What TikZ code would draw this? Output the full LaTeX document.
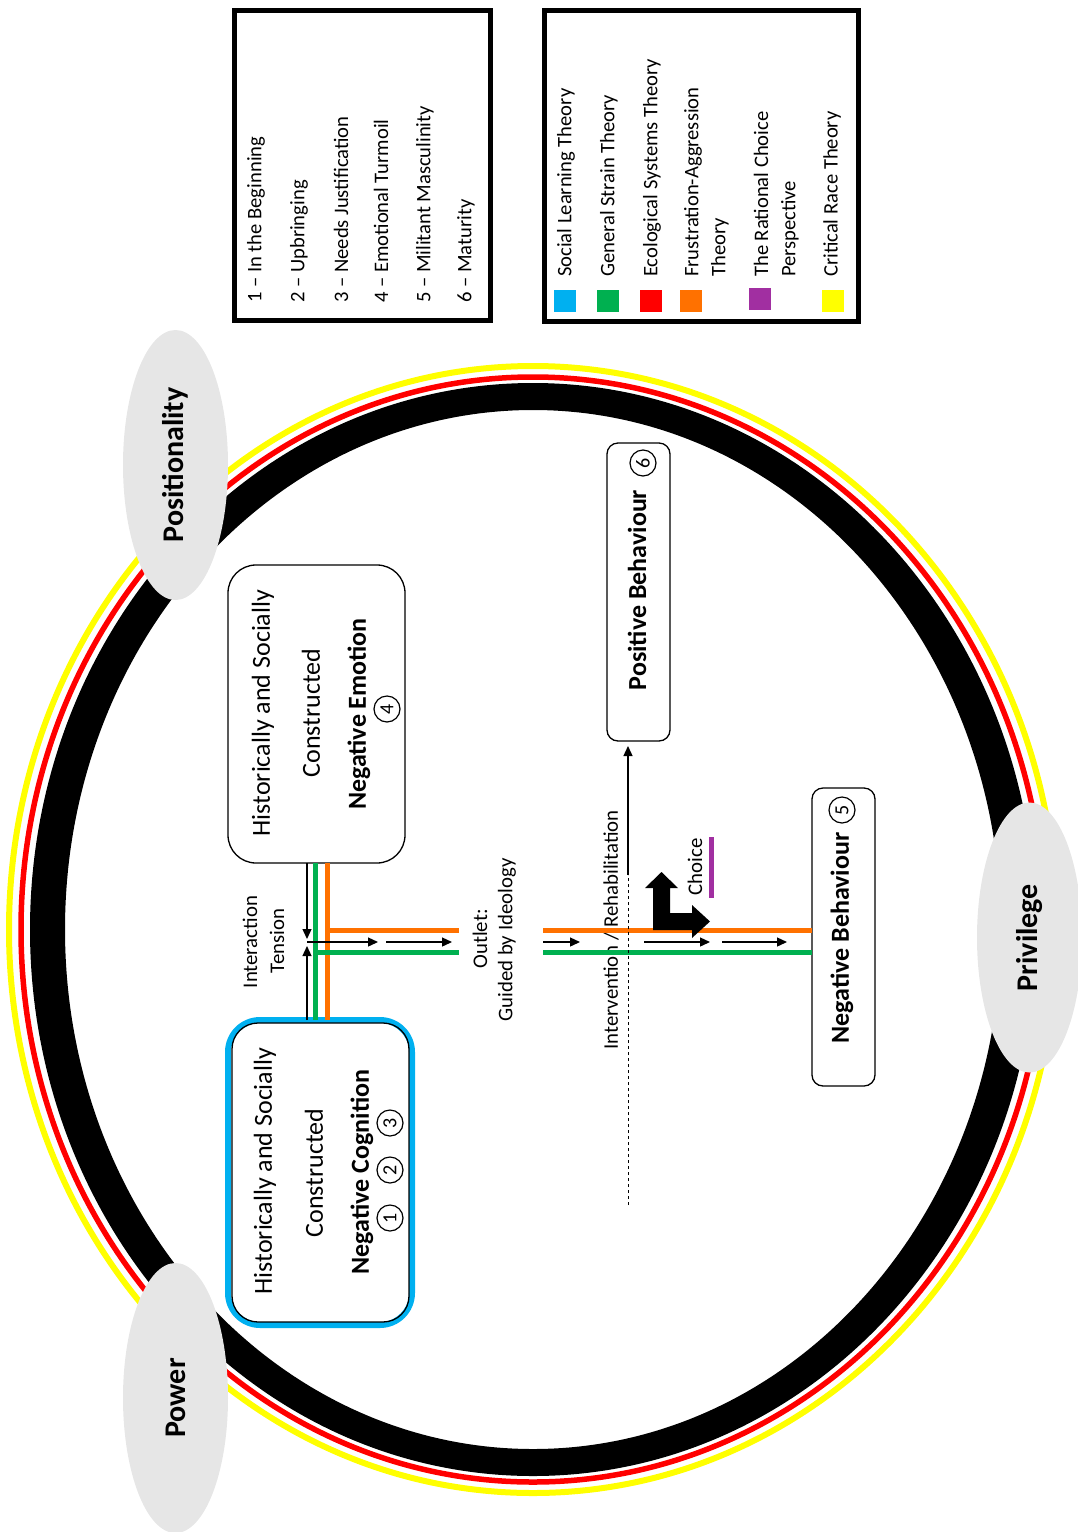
\documentclass[tikz,border=0pt]{standalone}
\usepackage{fontspec}
\setmainfont{Carlito}
\usetikzlibrary{arrows.meta,shapes.geometric}
\definecolor{sltblue}{HTML}{00B0F0}
\definecolor{gstgreen}{HTML}{00B050}
\definecolor{estred}{HTML}{FF0000}
\definecolor{faorange}{HTML}{FF7100}
\definecolor{rcpurple}{HTML}{A12FA1}
\definecolor{crtyellow}{HTML}{FFFF00}
\definecolor{ovalgray}{HTML}{E6E6E6}
\begin{document}
\begin{tikzpicture}[x=1pt,y=-1pt,
  smalltxt/.style={rotate=90, inner sep=0pt, font=\fontsize{20.8}{25}\selectfont},
  legtxt/.style={rotate=90, anchor=west, inner sep=0pt, font=\fontsize{20.6}{25}\selectfont},
  boxtxt/.style={rotate=90, inner sep=0pt, font=\fontsize{26}{31}\selectfont},
  boldtxt/.style={rotate=90, inner sep=0pt, font=\fontsize{26}{31}\selectfont\bfseries},
  oval/.style={ellipse, fill=ovalgray, inner sep=0pt, minimum width=270pt, minimum height=105pt, rotate=90, font=\fontsize{30}{36}\selectfont\bfseries},
  numc/.style={circle, draw, line width=1.2pt, minimum size=26pt, inner sep=0pt, rotate=90, font=\fontsize{20}{24}\selectfont},
  bigbox/.style={draw, line width=1.3pt, rounded corners=28pt, inner sep=0pt, outer sep=0pt},
  slimbox/.style={draw, line width=1.3pt, rounded corners=11pt, inner sep=0pt, outer sep=0pt, minimum width=63pt, minimum height=298pt},
  legbox/.style={draw, line width=5pt, inner sep=0pt},
  swatch/.style={minimum size=22pt, inner sep=0pt},
  thick line/.style={line width=5pt},
  tip/.style={-{Triangle[length=10pt,width=9pt]}, line width=1.3pt},
]
\useasboundingbox (0,0) rectangle (1078,1532);

% ring
\draw[crtyellow, line width=6pt] (533,929.5) ellipse [x radius=524pt, y radius=563.5pt];
\draw[estred, line width=5.5pt] (533,929.5) ellipse [x radius=512pt, y radius=552.5pt];
\fill[black, even odd rule] (533,929.5) ellipse [x radius=503pt, y radius=546.5pt]
  (533,929.5) ellipse [x radius=468pt, y radius=519.5pt];

% ovals
\node[oval] (posit) at (175.5,465) {Positionality};
\node[oval] (priv) at (1029.5,937.5) {Privilege};
\node[oval] (power) at (175.5,1398) {Power};

% legends
\node[legbox, minimum width=256pt, minimum height=310pt] (leg1) at (362,165) {};
\node[legtxt] (l1) at (256,303) {1 – In the Beginning};
\node[legtxt] (l2) at (299,303) {2 – Upbringing};
\node[legtxt] (l3) at (341,303) {3 – Needs Justification};
\node[legtxt] (l4) at (381,303) {4 – Emotional Turmoil};
\node[legtxt] (l5) at (425,303) {5 – Militant Masculinity};
\node[legtxt] (l6) at (466,303) {6 – Maturity};

\node[legbox, minimum width=314pt, minimum height=311pt] (leg2) at (701,165.5) {};
\node[swatch, fill=sltblue] (s1) at (565,300.5) {};
\node[swatch, fill=gstgreen] (s2) at (608,300.5) {};
\node[swatch, fill=estred] (s3) at (650.5,300.5) {};
\node[swatch, fill=faorange] (s4) at (691,300.5) {};
\node[swatch, fill=rcpurple] (s5) at (759.5,298.5) {};
\node[swatch, fill=crtyellow] (s6) at (833,300.5) {};
\node[legtxt] (t1) at (566,277) {Social Learning Theory};
\node[legtxt] (t2) at (609,277) {General Strain Theory};
\node[legtxt] (t3) at (652,277) {Ecological Systems Theory};
\node[legtxt] (t4a) at (693,277) {Frustration-Aggression};
\node[legtxt] (t4b) at (720,277) {Theory};
\node[legtxt] (t5a) at (761,277) {The Rational Choice};
\node[legtxt] (t5b) at (790,277) {Perspective};
\node[legtxt] (t6) at (832,277) {Critical Race Theory};

% boxes
\node[bigbox, minimum width=177pt, minimum height=298pt] (emo) at (316.5,714) {};
\node[boxtxt] at (263,713) {Historically and Socially};
\node[boxtxt] at (311,713) {Constructed};
\node[boldtxt] at (359,714) {Negative Emotion};
\node[numc] (n4) at (387,709) {4};

\node[draw=sltblue, line width=6pt, rounded corners=32pt, inner sep=0pt, outer sep=0pt, minimum width=184pt, minimum height=305pt] (cog) at (320,1172.5) {};
\node[bigbox, rounded corners=26pt, minimum width=177pt, minimum height=299pt] (coginner) at (320.5,1172.5) {};
\node[boxtxt] at (265,1171) {Historically and Socially};
\node[boxtxt] at (314,1173) {Constructed};
\node[boldtxt] at (362,1172) {Negative Cognition};
\node[numc] (n1) at (390,1218) {1};
\node[numc] (n2) at (390,1170) {2};
\node[numc] (n3) at (390,1123) {3};

\node[slimbox] (pos) at (638.5,592) {};
\node[boldtxt] at (637,590) {Positive Behaviour};
\node[numc] (n6) at (643,463) {6};

\node[slimbox] (neg) at (843.5,937) {};
\node[boldtxt] at (842,938) {Negative Behaviour};
\node[numc] (n5) at (842,810) {5};

% labels
\node[smalltxt] (inter) at (250,942) {Interaction};
\node[smalltxt] (tens) at (277,941) {Tension};
\node[smalltxt] (outl) at (480,939) {Outlet:};
\node[smalltxt] (guid) at (507,940) {Guided by Ideology};
\node[smalltxt] (interv) at (611,930) {Intervention / Rehabilitation};
\node[smalltxt] (choice) at (695,867) {Choice};

% coordinates
\coordinate (xb) at (307,0);
\coordinate (xg) at (315,0);
\coordinate (xo) at (327,0);
\coordinate (tensD) at (307,939);
\coordinate (tensU) at (307,946);
\coordinate (oJ) at (327,930);
\coordinate (oA) at (459,930);
\coordinate (oB) at (543,930);
\coordinate (gJ) at (315,952);
\coordinate (gA) at (459,952);
\coordinate (gB) at (543,952);
\coordinate (a0) at (307,942);
\coordinate (a1) at (378,942);
\coordinate (a2) at (386,942);
\coordinate (a3) at (452,942);
\coordinate (a4) at (543,942);
\coordinate (a5) at (580,942);
\coordinate (a6) at (644,942);
\coordinate (a7) at (710,942);
\coordinate (a8) at (722,942);
\coordinate (a9) at (787,942);
\coordinate (iv0) at (628,1205);
\coordinate (iv1) at (628,875);

% connectors between boxes
\draw[thick line, gstgreen] (emo.south -| xg) -- (cog.north -| xg);
\draw[thick line, faorange] (emo.south -| xo) -- (cog.north -| xo);
\draw[tip] (emo.south -| xb) -- (tensD);
\draw[tip] (cog.north -| xb) -- (tensU);

\draw[thick line, faorange] (oJ) -- (oA);
\draw[thick line, faorange] (oB) -- (neg.west |- oB);
\draw[thick line, gstgreen] (gJ) -- (gA);
\draw[thick line, gstgreen] (gB) -- (neg.west |- gB);

\draw[tip] (a0) -- (a1);
\draw[tip] (a2) -- (a3);
\draw[tip] (a4) -- (a5);
\draw[tip] (a6) -- (a7);
\draw[tip] (a8) -- (a9);

% intervention line
\draw[line width=1pt, dash pattern=on 3pt off 3pt] (iv0) -- (iv1);
\draw[tip, shorten >=5pt] (iv1) -- (pos.south -| iv1);

% choice
\draw[thick line, rcpurple] (711,837) -- (711,898);
\fill[black] (653,930) -- (653,888) -- (645,888) -- (661.5,872) -- (678,888) -- (670,888)
  -- (670,913) -- (692,913) -- (692,905) -- (710,921.5) -- (692,938) -- (692,930) -- cycle;
\end{tikzpicture}
\end{document}
